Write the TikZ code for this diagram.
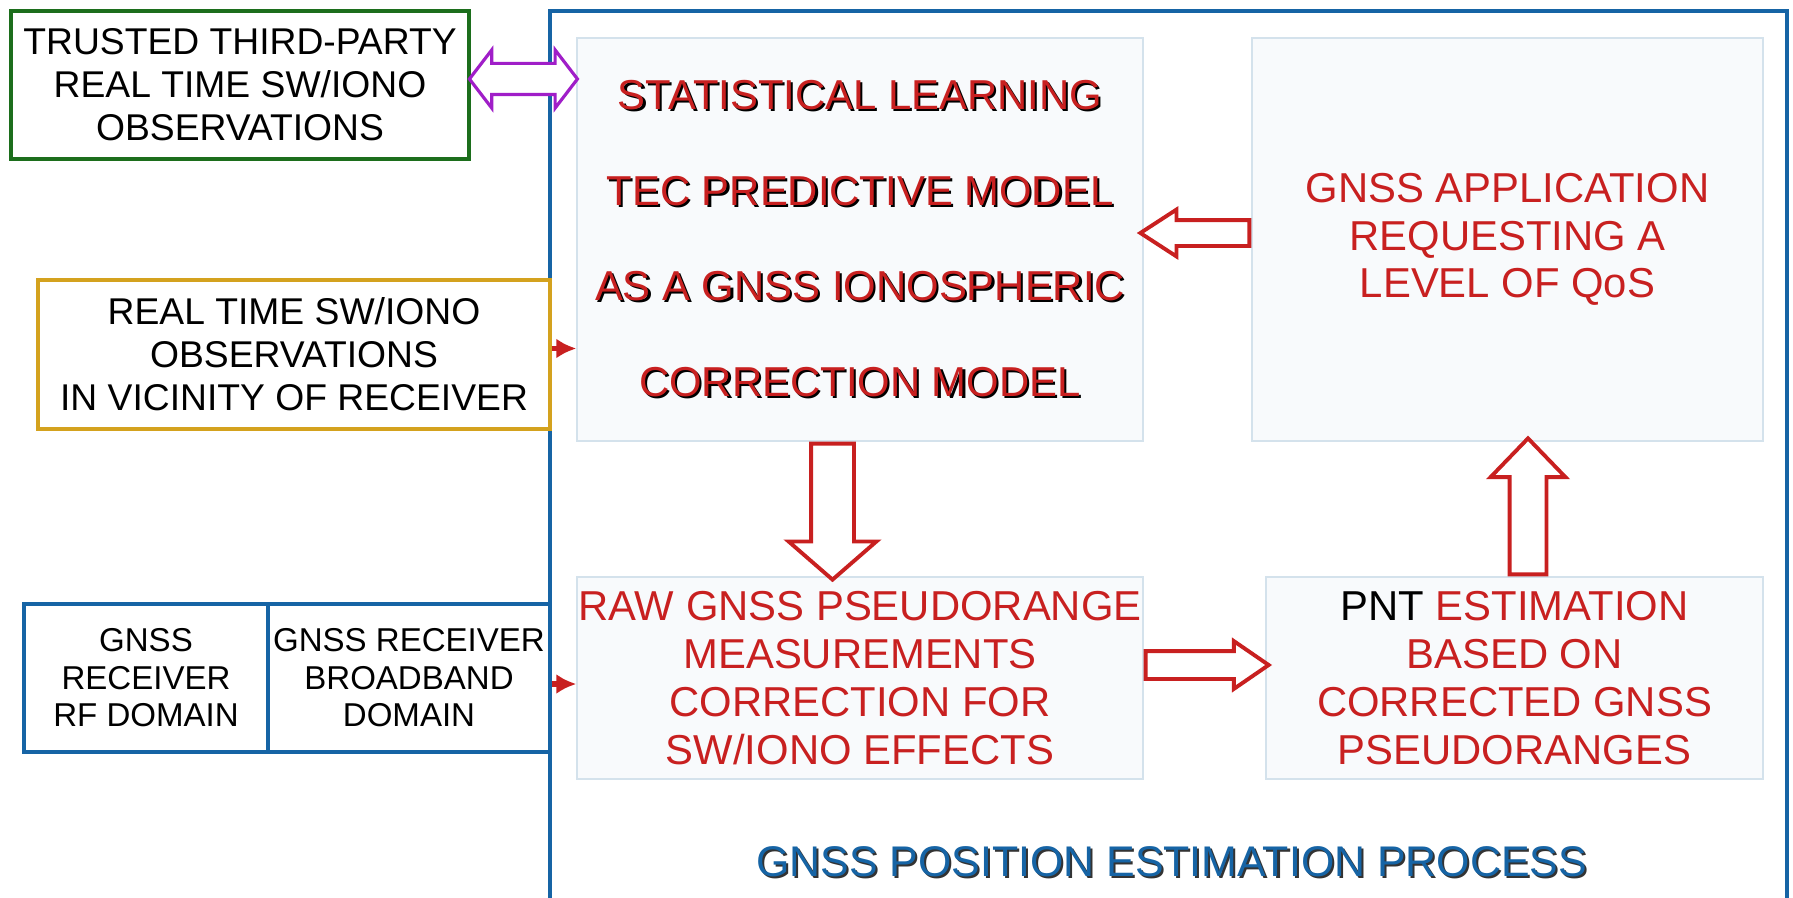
\documentclass[tikz,border=0pt]{standalone}
\usepackage{fontspec}
\setmainfont{Liberation Sans}
\usetikzlibrary{shapes.arrows, arrows.meta, calc}

\definecolor{procblue}{RGB}{22,100,165}
\definecolor{procred}{RGB}{200,32,32}
\definecolor{tpgreen}{RGB}{28,110,28}
\definecolor{obsgold}{RGB}{212,162,30}
\definecolor{linkpurple}{RGB}{160,30,200}
\definecolor{paleblue}{RGB}{248,250,252}
\definecolor{paleedge}{RGB}{212,226,236}

\newcommand{\shadowtxt}[2]{\rlap{\hspace{0.6pt}\raisebox{-0.6pt}{\textcolor{#1}{#2}}}#2}

\tikzstyle{sourcebox} = [rectangle, line width=0.9pt, inner sep=0pt, align=center, text=black, font=\fontsize{10.6}{12.2}\selectfont]
\tikzstyle{recvbox} = [rectangle, draw=procblue, line width=0.9pt, minimum height=1.48cm, inner sep=0pt, align=center, text=black, font=\fontsize{9.4}{10.7}\selectfont]
\tikzstyle{stage} = [rectangle, draw=paleedge, fill=paleblue, line width=0.4pt, inner sep=0pt, align=center, text=procred, font=\fontsize{11.9}{13.6}\selectfont]
\tikzstyle{blockarrow} = [single arrow, draw=procred, fill=white, line width=1.1pt, inner xsep=0pt, anchor=tail]
\tikzstyle{feed} = [-{Latex[length=0.2cm,width=0.2cm]}, procred, line width=1.7pt]

\begin{document}
\begin{tikzpicture}[node distance=4.4cm]

\useasboundingbox (0,0) rectangle (17.93,-8.98);
\clip (0,0) rectangle (17.93,-8.98);

% process frame
\node[coordinate] (frame_sw) at (5.5,-9.3) {};
\node[coordinate] (frame_ne) at (17.87,-0.11) {};
\draw[procblue, line width=0.9pt] (frame_sw) |- (frame_ne) -- (frame_ne |- frame_sw);

\node (slm) [stage, minimum width=5.66cm, minimum height=4.03cm, font=\fontsize{11.9}{27.2}\selectfont] at (8.6,-2.395) {\shadowtxt{black}{STATISTICAL LEARNING}\\\shadowtxt{black}{TEC PREDICTIVE MODEL}\\\shadowtxt{black}{AS A GNSS IONOSPHERIC}\\\shadowtxt{black}{CORRECTION MODEL}};
\node (raw) [stage, below of=slm, yshift=0.015cm, minimum width=5.66cm, minimum height=2.02cm] {RAW GNSS PSEUDORANGE\\MEASUREMENTS\\CORRECTION FOR\\SW/IONO EFFECTS};
\node (app) [stage, right of=slm, xshift=2.075cm, minimum width=5.11cm, minimum height=4.03cm] {GNSS APPLICATION\\REQUESTING A\\LEVEL OF QoS};
\node (pnt) [stage, right of=raw, xshift=2.145cm, minimum width=4.97cm, minimum height=2.02cm] {\textcolor{black}{PNT} ESTIMATION\\BASED ON\\CORRECTED GNSS\\PSEUDORANGES};

\node (tpobs) [sourcebox, draw=tpgreen, left of=slm, xshift=-1.8cm, yshift=1.545cm, minimum width=4.58cm, minimum height=1.48cm] {TRUSTED THIRD-PARTY\\REAL TIME SW/IONO\\OBSERVATIONS};
\node (rtobs) [sourcebox, draw=obsgold, left of=slm, xshift=-1.26cm, yshift=-1.15cm, minimum width=5.12cm, minimum height=1.49cm] {REAL TIME SW/IONO\\OBSERVATIONS\\IN VICINITY OF RECEIVER};
\node (bband) [recvbox, left of=raw, xshift=-0.11cm, minimum width=2.82cm] {GNSS RECEIVER\\BROADBAND\\DOMAIN};
\node (rfdom) [recvbox, left of=bband, xshift=1.77cm, minimum width=2.44cm] {GNSS\\RECEIVER\\RF DOMAIN};

\node (title) [below of=raw, xshift=3.115cm, yshift=2.55cm, text=procblue, font=\fontsize{12.2}{14}\selectfont] {\shadowtxt{black!80}{GNSS POSITION ESTIMATION PROCESS}};

% block arrows, tail on the source box
\node (down_arr) [blockarrow, rotate=-90, minimum height=1.36cm, minimum width=0.84cm, inner ysep=0.195cm, single arrow head extend=0.225cm, single arrow tip angle=98] at ([xshift=-0.275cm]slm.south) {};
\node (up_arr) [blockarrow, rotate=90, minimum height=1.36cm, minimum width=0.71cm, inner ysep=0.165cm, single arrow head extend=0.19cm, single arrow tip angle=88] at ([xshift=0.135cm]pnt.north) {};
\node (left_arr) [blockarrow, rotate=180, minimum height=1.09cm, minimum width=0.43cm, inner ysep=0.11cm, single arrow head extend=0.105cm, single arrow tip angle=66] at ([yshift=0.065cm]app.west) {};
\node (right_arr) [blockarrow, minimum height=1.23cm, minimum width=0.44cm, inner ysep=0.12cm, single arrow head extend=0.1cm, single arrow tip angle=69] at ([yshift=0.13cm]raw.east) {};
\node (link_arr) [double arrow, draw=linkpurple, fill=white, line width=0.9pt, inner xsep=0pt, inner ysep=0.14cm, minimum height=1.08cm, minimum width=0.55cm, double arrow head extend=0.135cm, double arrow tip angle=105] at ($(tpobs.east)!0.5!(tpobs.east -| slm.west)+(0,0.06)$) {};

\draw [feed] ([yshift=0.06cm]rtobs.east) -- ([yshift=0.06cm]rtobs.east -| slm.west);
\draw [feed] ([yshift=-0.06cm]bband.east) -- ([yshift=-0.06cm]bband.east -| raw.west);

\end{tikzpicture}
\end{document}
